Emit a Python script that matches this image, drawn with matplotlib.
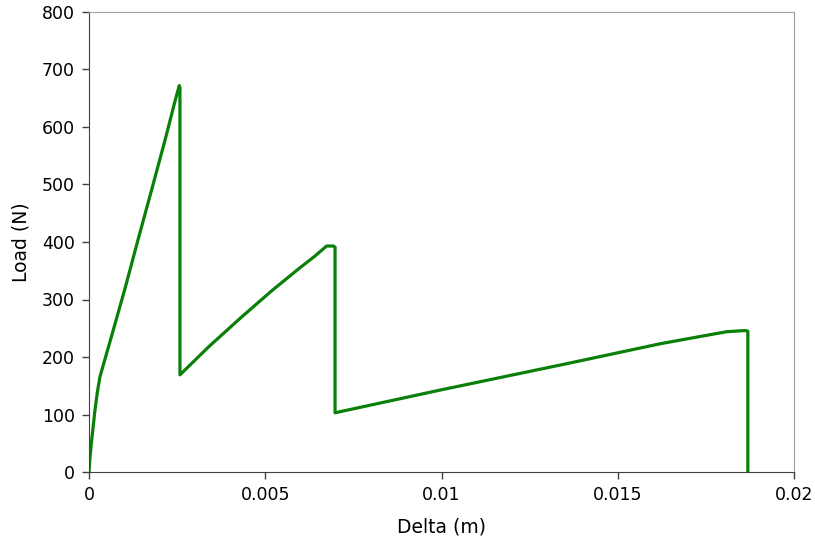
import matplotlib.pyplot as plt

# load-displacement curve
delta = [0.0, 0.00003, 0.000076, 0.00017, 0.00024, 0.000312, 0.000643, 0.001021, 0.0014,
         0.001778, 0.002156, 0.00244, 0.00256,
         0.00258, 0.00258, 0.0034, 0.0043, 0.0052, 0.0060, 0.0064, 0.00674, 0.00693,
         0.00698, 0.00698, 0.01, 0.0136, 0.0162, 0.01809, 0.01861, 0.01869, 0.01869]
load = [0, 27, 55, 108, 140, 166, 237, 319, 406,
        491, 577, 645, 672,
        668, 169, 218, 268, 316, 356, 375, 393, 393,
        391, 103, 143, 189, 223, 244, 246, 245, 0]

x_ticks = [0, 0.005, 0.01, 0.015, 0.02]
x_tick_labels = ["0", "0.005", "0.01", "0.015", "0.02"]
y_ticks = [0, 100, 200, 300, 400, 500, 600, 700, 800]

plt.rcParams["font.family"] = ["DejaVu Sans"]
fig = plt.figure(figsize=(8.15, 5.46), dpi=100)
ax = fig.add_axes([89 / 815, 1 - 472 / 546, 705 / 815, 460 / 546])

ax.plot(delta, load, color="#0a800a", linewidth=2.3, solid_joinstyle="round")

ax.set_xlim(0, 0.02)
ax.set_ylim(0, 800)
ax.set_xticks(x_ticks)
ax.set_xticklabels(x_tick_labels)
ax.set_yticks(y_ticks)
ax.tick_params(direction="out", length=5, width=1, color="#404040", labelsize=12.5, pad=5)
ax.set_xlabel("Delta (m)", fontsize=13.5, labelpad=10)
ax.set_ylabel("Load (N)", fontsize=13.5, labelpad=8)

for side in ["top", "right"]:
    ax.spines[side].set_color("#a0a0a0")
for side in ["left", "bottom"]:
    ax.spines[side].set_color("#404040")

fig.savefig("out.png", dpi=100)
